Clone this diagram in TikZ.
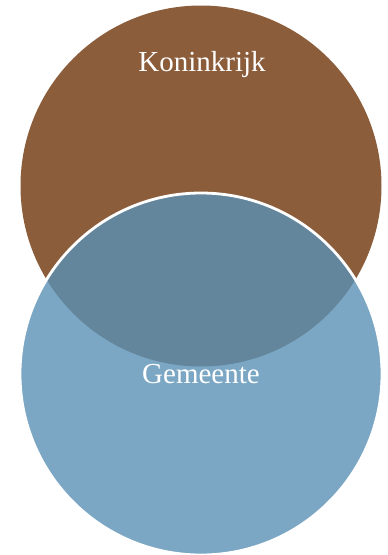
\documentclass[tikz,border=0pt]{standalone}
\usepackage{fontspec}
\setmainfont{Liberation Serif}
\definecolor{brownc}{RGB}{139,93,59}
\definecolor{bluec}{RGB}{90,145,181}
\begin{document}
\begin{tikzpicture}[x=1pt,y=-1pt,
  lbl/.style={text=white,font=\fontsize{29}{32}\selectfont,anchor=base,inner sep=0pt}]
\useasboundingbox (0,0) rectangle (388,555);
\fill[brownc] (201,186) circle[radius=180.5];
\path[fill=bluec,fill opacity=0.8,draw=white,line width=2.8pt] (201,374) circle[radius=181];
\node[lbl] (k) at (202,71) {Koninkrijk};
\node[lbl] (g) at (201,383) {Gemeente};
\end{tikzpicture}
\end{document}
